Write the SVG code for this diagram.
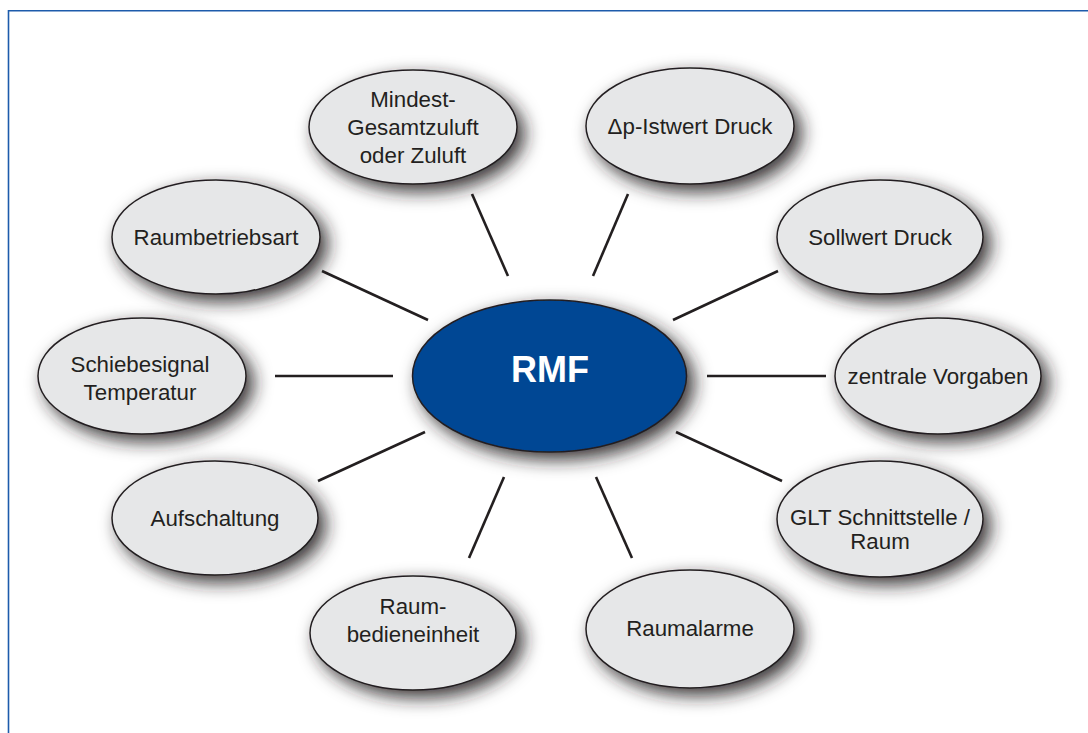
<svg xmlns="http://www.w3.org/2000/svg" width="1088" height="733" viewBox="0 0 1088 733">
<defs>
<filter id="sh" x="-30%" y="-40%" width="170%" height="190%">
<feGaussianBlur in="SourceAlpha" stdDeviation="9" result="b"/>
<feOffset in="b" dx="7" dy="7" result="o"/>
<feFlood flood-color="#231f20" flood-opacity="0.9"/>
<feComposite in2="o" operator="in" result="s"/>
<feMerge><feMergeNode in="s"/><feMergeNode in="SourceGraphic"/></feMerge>
</filter>
<style>
.n{fill:#e6e7e8;stroke:#231f20;stroke-width:1.5}
.c{fill:#034694;stroke:#231f20;stroke-width:1.5}
.t{font-family:"Liberation Sans",Arial,sans-serif;font-size:22.3px;fill:#231f20;text-anchor:middle}
.m{font-family:"Liberation Sans",Arial,sans-serif;font-size:36px;font-weight:bold;fill:#ffffff;text-anchor:middle}
.l{stroke:#231f20;stroke-width:2.6;fill:none}
</style>
</defs>
<rect width="1088" height="733" fill="#ffffff"/>
<path d="M8.5 733 V10.8 H1088" fill="none" stroke="#1d5bab" stroke-width="1.6"/>
<g id="connectors">
<line class="l" x1="472" y1="194" x2="508" y2="276"/>
<line class="l" x1="628" y1="194" x2="593" y2="276"/>
<line class="l" x1="322" y1="271" x2="428" y2="320"/>
<line class="l" x1="778" y1="271" x2="673" y2="320"/>
<line class="l" x1="275" y1="376" x2="393" y2="376"/>
<line class="l" x1="707" y1="376" x2="826" y2="376"/>
<line class="l" x1="318" y1="481" x2="425" y2="432"/>
<line class="l" x1="676" y1="432" x2="782" y2="481"/>
<line class="l" x1="504" y1="477" x2="469" y2="558"/>
<line class="l" x1="596" y1="477" x2="632" y2="558"/>
</g>
<g id="rmf"><ellipse class="c" filter="url(#sh)" cx="549.5" cy="376" rx="137" ry="76"/><text class="m" x="550" y="382">RMF</text></g>
<g id="mindest"><ellipse class="n" filter="url(#sh)" cx="413" cy="127" rx="104" ry="57"/><text class="t" x="413" y="107">Mindest-</text><text class="t" x="413" y="135">Gesamtzuluft</text><text class="t" x="413" y="163">oder Zuluft</text></g>
<g id="istwert"><ellipse class="n" filter="url(#sh)" cx="690" cy="126" rx="104" ry="58"/><text class="t" x="690" y="134">Δp-Istwert Druck</text></g>
<g id="raumbetriebsart"><ellipse class="n" filter="url(#sh)" cx="216" cy="237" rx="104" ry="57"/><text class="t" x="216" y="245">Raumbetriebsart</text></g>
<g id="sollwert"><ellipse class="n" filter="url(#sh)" cx="880" cy="237" rx="103" ry="57"/><text class="t" x="880" y="245">Sollwert Druck</text></g>
<g id="schiebesignal"><ellipse class="n" filter="url(#sh)" cx="142" cy="376" rx="104" ry="58"/><text class="t" x="140" y="372">Schiebesignal</text><text class="t" x="140" y="400">Temperatur</text></g>
<g id="zentrale"><ellipse class="n" filter="url(#sh)" cx="938" cy="376" rx="103" ry="58"/><text class="t" x="938" y="384">zentrale Vorgaben</text></g>
<g id="aufschaltung"><ellipse class="n" filter="url(#sh)" cx="215" cy="518" rx="103" ry="57"/><text class="t" x="215" y="526">Aufschaltung</text></g>
<g id="glt"><ellipse class="n" filter="url(#sh)" cx="880" cy="519" rx="103" ry="58"/><text class="t" x="880" y="525">GLT Schnittstelle /</text><text class="t" x="880" y="549">Raum</text></g>
<g id="raumbedien"><ellipse class="n" filter="url(#sh)" cx="413" cy="633" rx="103" ry="57"/><text class="t" x="413" y="614">Raum-</text><text class="t" x="413" y="642">bedieneinheit</text></g>
<g id="raumalarme"><ellipse class="n" filter="url(#sh)" cx="690" cy="629" rx="104" ry="59"/><text class="t" x="690" y="636">Raumalarme</text></g>
</svg>
